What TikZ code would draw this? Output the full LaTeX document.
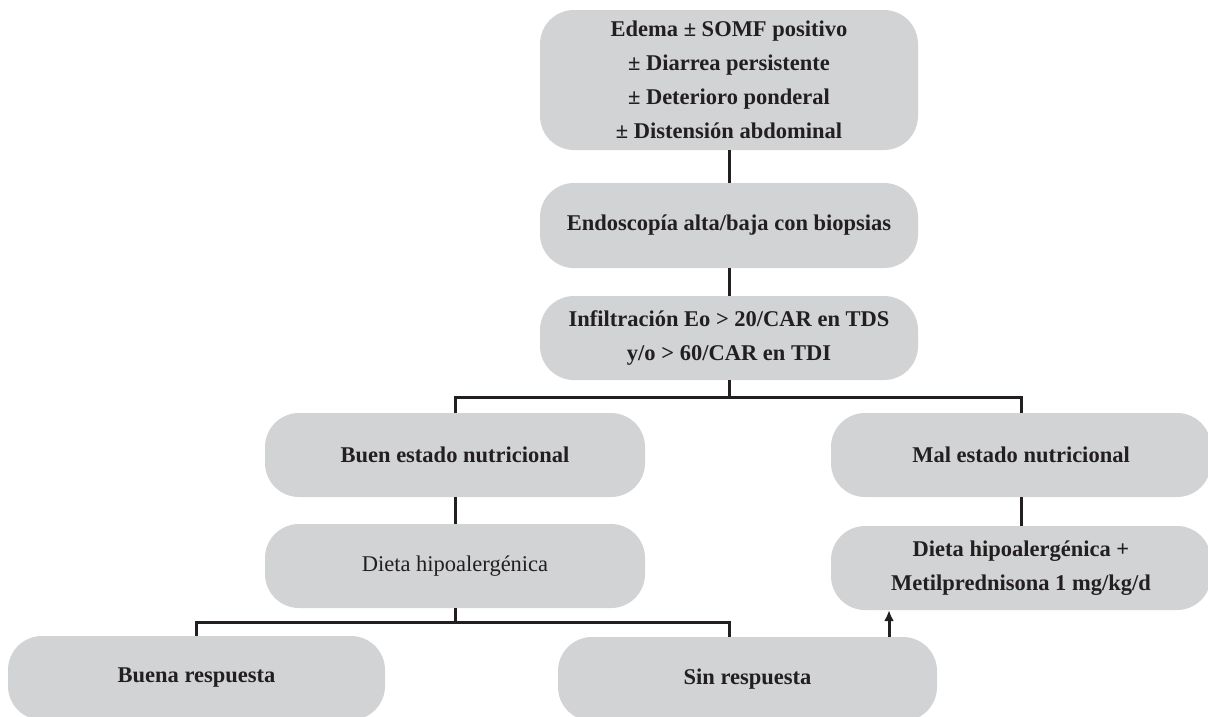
\documentclass[tikz,border=0pt]{standalone}
\usepackage{fontspec}
\setmainfont{Liberation Serif}
\usepackage{tikz}
\usetikzlibrary{positioning, arrows.meta, calc}

\definecolor{boxgray}{HTML}{D1D3D4}
\definecolor{ink}{HTML}{231F20}

\begin{document}
\begin{tikzpicture}[
    x=1pt, y=-1pt,
    font=\fontsize{22.5}{34}\selectfont\bfseries,
    nd/.style={fill=boxgray, rounded corners=34pt, minimum width=380pt,
               minimum height=84pt, inner sep=0pt, align=center, text=ink},
    lnk/.style={draw=ink, line width=3pt},
    arr/.style={lnk, -{Latex[length=11pt, width=10pt]}},
  ]
\useasboundingbox (0,0) rectangle (1208,716);

\node[nd, minimum width=378pt, minimum height=140pt] (sym) at (729,80)
    {Edema ± SOMF positivo\\ ± Diarrea persistente\\ ± Deterioro ponderal\\ ± Distensión abdominal};
\node[nd, minimum width=378pt, minimum height=85pt] (endo) at (729,225.5) {Endoscopía alta/baja con biopsias};
\node[nd, minimum width=378pt] (infil) at (729,338) {Infiltración Eo > 20/CAR en TDS\\ y/o > 60/CAR en TDI};
\node[nd] (buen) at (455,455) {Buen estado nutricional};
\node[nd] (mal) at (1021,455) {Mal estado nutricional};
\node[nd, font=\fontsize{22.5}{34}\selectfont\mdseries] (dieta) at (455,566) {Dieta hipoalergénica};
\node[nd] (dmet) at (1021,568) {Dieta hipoalergénica +\\ Metilprednisona 1 mg/kg/d};
\node[nd, minimum width=377pt] (buena) at (196.5,678) {Buena respuesta};
\node[nd, minimum width=379pt] (sinr) at (747.5,679) {Sin respuesta};

\coordinate (j1) at (729,397);
\coordinate (j2) at (455,622);
\coordinate (a1) at (889,637);

\draw[lnk] (sym) -- (endo);
\draw[lnk] (endo) -- (infil);
\draw[lnk] (infil) -- (j1);
\draw[lnk] (buen.north) |- (j1) -| (mal.north);
\draw[lnk] (buen) -- (dieta);
\draw[lnk] (mal) -- (dmet);
\draw[lnk] (dieta) -- (j2);
\draw[lnk] (buena.north) |- (j2) -| (sinr.north -| infil.south);
\draw[arr] (a1) -- (a1 |- dmet.south);
\end{tikzpicture}
\end{document}
